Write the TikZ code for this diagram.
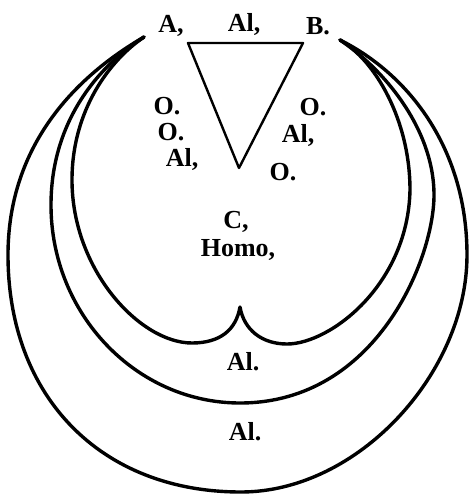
\documentclass[tikz,border=0pt]{standalone}
\usepackage{fontspec}
\setmainfont{Liberation Serif}
\begin{document}
\begin{tikzpicture}[x=1pt,y=-1pt,
		rim/.style={line width=3.4pt,line join=round,line cap=round},
		tri/.style={line width=2.4pt,line join=round},
		lab/.style={font=\bfseries\fontsize{26}{28}\selectfont,inner sep=0pt}]
		\useasboundingbox (0,0) rectangle (469,496);
		
		% tips where the three bands meet
		\coordinate (A) at (144,37);
		\coordinate (B) at (340,40);
		
		% outer band
		\draw[rim] (A) .. controls (70,80) and (8,150) .. (8,255)
		.. controls (8,397) and (101,492) .. (241,492)
		.. controls (358,492) and (467,373) .. (467,255)
		.. controls (467,150) and (410,75) .. (B);
		
		% middle band
		\draw[rim] (A) .. controls (100,65) and (51,120) .. (51,205)
		.. controls (51,314) and (136,403) .. (240,403)
		.. controls (376,403) and (434,259) .. (434,195)
		.. controls (434,130) and (385,70) .. (B);
		
		% inner heart with the cusp
		\draw[rim] (A) .. controls (110,60) and (72,110) .. (72,180)
		.. controls (72,270) and (140,343) .. (192,343)
		.. controls (220,343) and (236,330) .. (240,307)
		.. controls (244,330) and (262,344) .. (287,344)
		.. controls (330,344) and (408,285) .. (410,190)
		.. controls (410,120) and (375,60) .. (B);
		
		% the triangle
		\coordinate (tl) at (188,43);
		\coordinate (tr) at (303,43);
		\coordinate (bot) at (239,168);
		\draw[tri] (tr) -- (tl) -- (bot) -- cycle;
		
		% labels
		\node[lab] (la) at (171,26) {A,};
		\node[lab] (lal) at (244,24) {Al,};
		\node[lab] (lb) at (318,26) {B.};
		\node[lab] (lo1) at (167,106) {O.};
		\node[lab] (lo2) at (171,132) {O.};
		\node[lab] (lal1) at (182,159) {Al,};
		\node[lab] (lo3) at (313,107) {O.};
		\node[lab] (lal2) at (298,135) {Al,};
		\node[lab] (lo4) at (283,172) {O.};
		\node[lab] (lc) at (236,222) {C,};
		\node[lab] (lhomo) at (238,250) {Homo,};
		\node[lab] (lmid) at (243,362) {Al.};
		\node[lab] (lout) at (245,432) {Al.};
	\end{tikzpicture}
\end{document}
